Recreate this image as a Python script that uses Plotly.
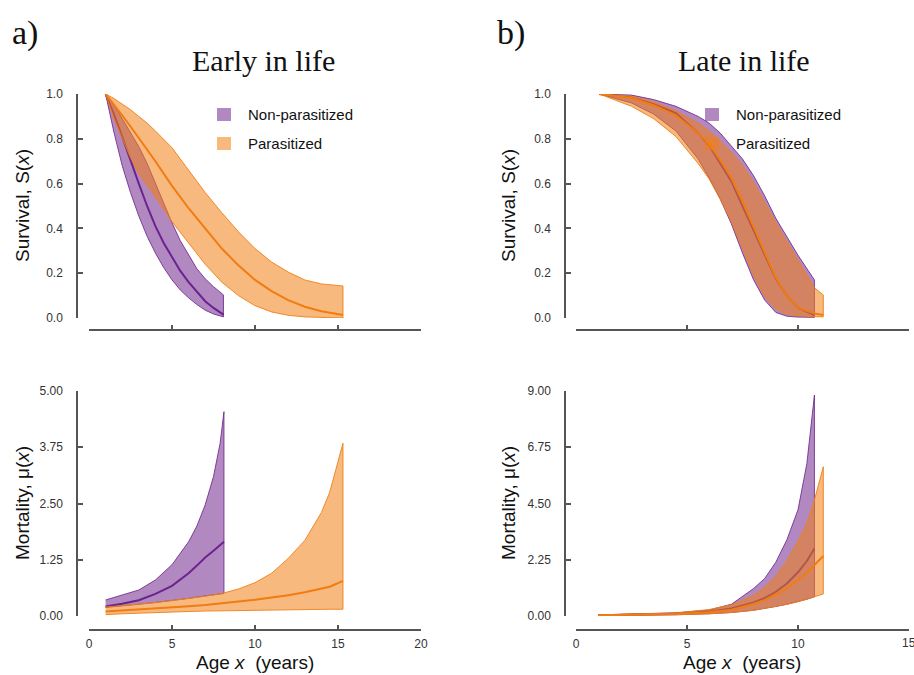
import plotly.graph_objects as go

# ---------------- data ----------------
# Early in life — survival
el_np_age = [1, 1.5, 2, 2.5, 3, 3.5, 4, 4.5, 5, 5.5, 6, 6.5, 7, 7.5, 8.1]
el_np_s_med = [1, 0.91, 0.81, 0.70, 0.60, 0.50, 0.41, 0.335, 0.27, 0.21, 0.16, 0.115, 0.075, 0.045, 0.015]
el_np_s_up = [1, 0.95, 0.89, 0.83, 0.765, 0.69, 0.60, 0.51, 0.425, 0.345, 0.28, 0.22, 0.175, 0.14, 0.103]
el_np_s_lo = [1, 0.83, 0.68, 0.56, 0.455, 0.365, 0.29, 0.225, 0.17, 0.125, 0.09, 0.06, 0.035, 0.018, 0.005]

el_p_age = [1, 1.5, 2, 2.5, 3, 3.5, 4, 5, 6, 7, 8, 9, 10, 11, 12, 13, 14, 15.3]
el_p_s_med = [1, 0.955, 0.905, 0.855, 0.805, 0.755, 0.70, 0.59, 0.49, 0.40, 0.31, 0.235, 0.17, 0.12, 0.08, 0.05, 0.03, 0.013]
el_p_s_up = [1, 0.98, 0.955, 0.93, 0.90, 0.87, 0.835, 0.76, 0.66, 0.56, 0.47, 0.385, 0.31, 0.25, 0.205, 0.17, 0.152, 0.143]
el_p_s_lo = [1, 0.89, 0.80, 0.715, 0.645, 0.59, 0.54, 0.43, 0.335, 0.24, 0.16, 0.10, 0.055, 0.027, 0.012, 0.005, 0.002, 0.0]

# Early in life — mortality
el_np_m_age = [1, 2, 3, 4, 5, 6, 6.5, 7, 7.5, 7.9, 8.13]
el_np_m_up = [0.356, 0.467, 0.578, 0.80, 1.14, 1.65, 2.0, 2.47, 3.1, 3.84, 4.54]
el_np_m_med = [0.21, 0.27, 0.35, 0.49, 0.67, 0.95, 1.12, 1.30, 1.45, 1.58, 1.65]
el_np_m_lo = [0.19, 0.22, 0.26, 0.30, 0.34, 0.39, 0.42, 0.44, 0.47, 0.49, 0.50]

el_p_m_age = [1, 2, 3, 4, 5, 6, 7, 8, 9, 10, 11, 12, 13, 14, 14.5, 15.3]
el_p_m_up = [0.2, 0.23, 0.265, 0.30, 0.345, 0.39, 0.44, 0.50, 0.60, 0.74, 0.95, 1.28, 1.68, 2.3, 2.75, 3.84]
el_p_m_med = [0.1, 0.12, 0.14, 0.165, 0.19, 0.215, 0.245, 0.28, 0.315, 0.36, 0.41, 0.46, 0.53, 0.60, 0.65, 0.78]
el_p_m_lo = [0.03, 0.05, 0.065, 0.078, 0.09, 0.1, 0.11, 0.12, 0.125, 0.13, 0.135, 0.14, 0.145, 0.148, 0.15, 0.15]

# Late in life — survival
ll_np_age = [1.05, 2.5, 3.5, 4.5, 5.5, 6, 6.5, 7, 7.5, 8, 8.5, 9, 9.5, 10, 10.74]
ll_np_s_up = [1.0, 0.995, 0.975, 0.945, 0.90, 0.87, 0.825, 0.77, 0.71, 0.635, 0.545, 0.445, 0.36, 0.28, 0.17]
ll_np_s_med = [1.0, 0.985, 0.955, 0.915, 0.825, 0.77, 0.69, 0.61, 0.50, 0.39, 0.28, 0.175, 0.10, 0.045, 0.013]
ll_np_s_lo = [1.0, 0.96, 0.91, 0.835, 0.71, 0.625, 0.53, 0.42, 0.29, 0.17, 0.08, 0.025, 0.008, 0.004, 0.003]

ll_p_age = [1.05, 2.5, 3.5, 4.5, 5.5, 6, 6.5, 7, 7.5, 8, 8.5, 9, 9.5, 10, 10.74, 11.14]
ll_p_s_up = [1.0, 0.99, 0.965, 0.925, 0.87, 0.835, 0.79, 0.74, 0.68, 0.605, 0.515, 0.425, 0.34, 0.26, 0.135, 0.103]
ll_p_s_med = [1.0, 0.982, 0.95, 0.905, 0.825, 0.775, 0.705, 0.625, 0.52, 0.405, 0.29, 0.18, 0.10, 0.045, 0.02, 0.013]
ll_p_s_lo = [1.0, 0.945, 0.89, 0.81, 0.69, 0.62, 0.53, 0.43, 0.31, 0.19, 0.095, 0.04, 0.018, 0.01, 0.006, 0.005]

# Late in life — mortality
ll_np_m_age = [1, 3, 4.5, 6, 7, 8, 8.5, 9, 9.5, 10, 10.4, 10.74]
ll_np_m_up = [0.04, 0.08, 0.13, 0.24, 0.47, 1.10, 1.50, 2.15, 3.05, 4.25, 6.10, 8.84]
ll_np_m_med = [0.03, 0.05, 0.09, 0.17, 0.30, 0.54, 0.72, 0.97, 1.30, 1.75, 2.20, 2.70]
ll_np_m_lo = [0.02, 0.03, 0.05, 0.09, 0.14, 0.23, 0.30, 0.38, 0.47, 0.57, 0.67, 0.77]

ll_p_m_age = [1, 3, 4.5, 6, 7, 8, 8.5, 9, 9.5, 10, 10.4, 10.74, 11.14]
ll_p_m_up = [0.04, 0.07, 0.12, 0.26, 0.45, 0.82, 1.15, 1.60, 2.20, 3.00, 3.70, 4.64, 5.97]
ll_p_m_med = [0.03, 0.05, 0.08, 0.15, 0.25, 0.48, 0.64, 0.86, 1.10, 1.45, 1.72, 2.04, 2.40]
ll_p_m_lo = [0.02, 0.03, 0.05, 0.09, 0.14, 0.23, 0.30, 0.38, 0.47, 0.57, 0.67, 0.77, 0.88]

group_labels = ["Non-parasitized", "Parasitized"]
panel_titles = ["Early in life", "Late in life"]
panel_letters = ["a)", "b)"]
surv_ticks = [0, 0.2, 0.4, 0.6, 0.8, 1.0]
mort_ticks_early = [0, 1.25, 2.5, 3.75, 5.0]
mort_ticks_late = [0, 2.25, 4.5, 6.75, 9.0]
age_ticks_early = [0, 5, 10, 15, 20]
age_ticks_late = [0, 5, 10, 15]

# ---------------- styling ----------------
W, H = 914, 675
PURPLE_FILL = "rgba(123,50,148,0.58)"
PURPLE_EDGE = "rgba(110,40,140,0.85)"
PURPLE_LINE = "#6a238f"
ORANGE_FILL = "rgba(241,128,20,0.55)"
ORANGE_EDGE = "rgba(241,128,20,0.9)"
ORANGE_LINE = "#f07c12"
AXIS_COL = "#555555"
TICK_COL = "#333333"
SANS = "Arial, Liberation Sans, sans-serif"
SERIF = "Liberation Serif, Times New Roman, serif"


def px(x):
    return x / W


def py(y):
    return 1 - y / H


fig = go.Figure()


def band(age, lo, up, fill, edge, xa, ya):
    fig.add_trace(go.Scatter(
        x=list(age) + list(age)[::-1],
        y=list(up) + list(lo)[::-1],
        fill="toself", fillcolor=fill, mode="lines",
        line=dict(color=edge, width=1), xaxis=xa, yaxis=ya,
        showlegend=False, hoverinfo="skip"))


def median(age, med, color, xa, ya):
    fig.add_trace(go.Scatter(
        x=age, y=med, mode="lines", line=dict(color=color, width=2),
        xaxis=xa, yaxis=ya, showlegend=False))


# top-left
band(el_np_age, el_np_s_lo, el_np_s_up, PURPLE_FILL, PURPLE_EDGE, "x", "y")
median(el_np_age, el_np_s_med, PURPLE_LINE, "x", "y")
band(el_p_age, el_p_s_lo, el_p_s_up, ORANGE_FILL, ORANGE_EDGE, "x", "y")
median(el_p_age, el_p_s_med, ORANGE_LINE, "x", "y")
# bottom-left
band(el_np_m_age, el_np_m_lo, el_np_m_up, PURPLE_FILL, PURPLE_EDGE, "x2", "y2")
median(el_np_m_age, el_np_m_med, PURPLE_LINE, "x2", "y2")
band(el_p_m_age, el_p_m_lo, el_p_m_up, ORANGE_FILL, ORANGE_EDGE, "x2", "y2")
median(el_p_m_age, el_p_m_med, ORANGE_LINE, "x2", "y2")
# top-right
band(ll_np_age, ll_np_s_lo, ll_np_s_up, PURPLE_FILL, PURPLE_EDGE, "x3", "y3")
median(ll_np_age, ll_np_s_med, PURPLE_LINE, "x3", "y3")
band(ll_p_age, ll_p_s_lo, ll_p_s_up, ORANGE_FILL, ORANGE_EDGE, "x3", "y3")
median(ll_p_age, ll_p_s_med, ORANGE_LINE, "x3", "y3")
# bottom-right
band(ll_np_m_age, ll_np_m_lo, ll_np_m_up, PURPLE_FILL, PURPLE_EDGE, "x4", "y4")
median(ll_np_m_age, ll_np_m_med, PURPLE_LINE, "x4", "y4")
band(ll_p_m_age, ll_p_m_lo, ll_p_m_up, ORANGE_FILL, ORANGE_EDGE, "x4", "y4")
median(ll_p_m_age, ll_p_m_med, ORANGE_LINE, "x4", "y4")

LEFT_DOM = [px(89), px(421)]
RIGHT_DOM = [px(576), px(909)]
TOP_DOM = [py(318), py(94)]
BOT_DOM = [py(616), py(391)]


def xax(dom, rng, ticks, pos, labels):
    return dict(domain=dom, range=rng, tickvals=ticks, ticktext=[str(t) for t in ticks],
                anchor="free", position=pos, showline=True, linecolor=AXIS_COL, linewidth=1.5,
                ticks="inside", ticklen=4, tickcolor=AXIS_COL, tickwidth=1.5,
                showgrid=False, zeroline=False, showticklabels=labels,
                tickfont=dict(family=SANS, size=12, color=TICK_COL), ticklabelstandoff=3)


def yax(dom, rng, ticks, fmt, pos):
    return dict(domain=dom, range=rng, tickvals=ticks, ticktext=[fmt.format(t) for t in ticks],
                anchor="free", position=pos, showline=True, linecolor=AXIS_COL, linewidth=1.5,
                ticks="inside", ticklen=5, tickcolor=AXIS_COL, tickwidth=1.5,
                showgrid=False, zeroline=False,
                tickfont=dict(family=SANS, size=12, color=TICK_COL), ticklabelstandoff=11)


fig.update_layout(
    width=W, height=H, margin=dict(l=0, r=0, t=0, b=0, autoexpand=False),
    paper_bgcolor="white", plot_bgcolor="white", showlegend=False,
    xaxis=xax(LEFT_DOM, [0, 20], age_ticks_early, py(330), False),
    yaxis=yax(TOP_DOM, [0, 1], surv_ticks, "{:.1f}", px(77)),
    xaxis2=xax(LEFT_DOM, [0, 20], age_ticks_early, py(630), True),
    yaxis2=yax(BOT_DOM, [0, 5], mort_ticks_early, "{:.2f}", px(77)),
    xaxis3=xax(RIGHT_DOM, [0, 15], age_ticks_late, py(330), False),
    yaxis3=yax(TOP_DOM, [0, 1], surv_ticks, "{:.1f}", px(565)),
    xaxis4=xax(RIGHT_DOM, [0, 15], age_ticks_late, py(630), True),
    yaxis4=yax(BOT_DOM, [0, 9], mort_ticks_late, "{:.2f}", px(565)),
)

ann = []
shapes = []
# the last bottom-right tick label sits on the figure edge (cut off in the original)
ann.append(dict(text=str(age_ticks_late[-1]), x=age_ticks_late[-1], xref="x4",
                y=py(643), yref="paper", showarrow=False, xanchor="center", yanchor="middle",
                font=dict(family=SANS, size=12, color=TICK_COL)))
# titles and letters
for i, (cx, lx) in enumerate([(263, 10), (744, 495)]):
    ann.append(dict(text=panel_titles[i], x=px(cx), y=py(60), xref="paper", yref="paper",
                    showarrow=False, xanchor="center", yanchor="middle",
                    font=dict(family=SERIF, size=30, color="#111111")))
    ann.append(dict(text=panel_letters[i], x=px(lx), y=py(33), xref="paper", yref="paper",
                    showarrow=False, xanchor="left", yanchor="middle",
                    font=dict(family=SERIF, size=34, color="#111111")))
# axis titles
for tx in [22, 508]:
    ann.append(dict(text="Survival, S(<i>x</i>)", x=px(tx), y=py(206), xref="paper", yref="paper",
                    showarrow=False, textangle=-90, xanchor="center", yanchor="middle",
                    font=dict(family=SANS, size=19, color="#111111")))
    ann.append(dict(text="Mortality, \u03bc(<i>x</i>)", x=px(tx), y=py(503), xref="paper", yref="paper",
                    showarrow=False, textangle=-90, xanchor="center", yanchor="middle",
                    font=dict(family=SANS, size=19, color="#111111")))
for cx in [255, 742]:
    ann.append(dict(text="Age <i>x</i>  (years)", x=px(cx), y=py(662), xref="paper", yref="paper",
                    showarrow=False, xanchor="center", yanchor="middle",
                    font=dict(family=SANS, size=19, color="#111111")))
# legends
for sx, tx in [(217, 246), (705, 734)]:
    for j, (fill, y0) in enumerate([(PURPLE_FILL, 108), (ORANGE_FILL, 137)]):
        shapes.append(dict(type="rect", xref="paper", yref="paper",
                           x0=px(sx), x1=px(sx + 14), y0=py(y0 + 13), y1=py(y0),
                           fillcolor=fill, line=dict(width=0), layer="above"))
        ann.append(dict(text=group_labels[j], x=px(tx), y=py(y0 + 6.5), xref="paper", yref="paper",
                        showarrow=False, xanchor="left", yanchor="middle",
                        font=dict(family=SANS, size=15, color="#111111")))

fig.update_layout(annotations=ann, shapes=shapes)
fig.write_html("out.html")
